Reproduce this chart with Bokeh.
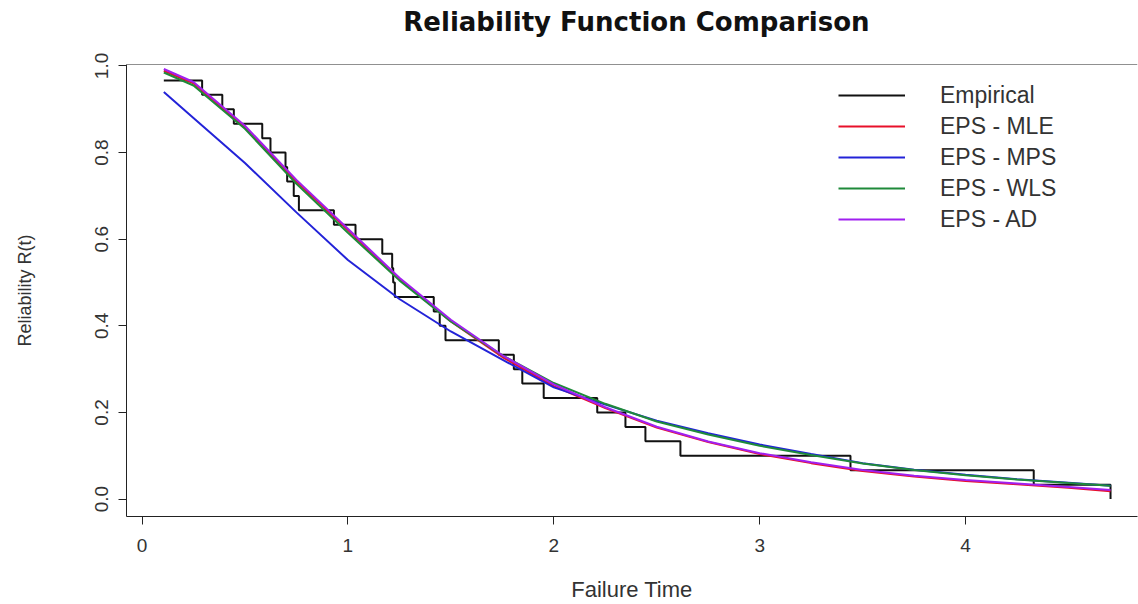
from bokeh.plotting import figure
from bokeh.layouts import column
from bokeh.models import Range1d, FixedTicker, Legend, LegendItem, Span
from bokeh.core.properties import value
from bokeh.embed import file_html
from bokeh.resources import INLINE

# ---------------- data ----------------
# Empirical reliability: ordered failure times and R(t) = 1 - i/n (n = 30)
emp_time = [0.106, 0.292, 0.390, 0.446, 0.584, 0.624, 0.697, 0.705, 0.737, 0.762,
            0.932, 1.037, 1.167, 1.215, 1.220, 1.228, 1.417, 1.446, 1.474, 1.733,
            1.806, 1.847, 1.951, 2.211, 2.348, 2.445, 2.615, 3.441, 4.331, 4.704]
emp_rel = [0.9667, 0.9333, 0.9000, 0.8667, 0.8333, 0.8000, 0.7667, 0.7333, 0.7000, 0.6667,
           0.6333, 0.6000, 0.5667, 0.5333, 0.5000, 0.4667, 0.4333, 0.4000, 0.3667, 0.3333,
           0.3000, 0.2667, 0.2333, 0.2000, 0.1667, 0.1333, 0.1000, 0.0667, 0.0333, 0.0000]

# fitted reliability curves
fit_time = [0.106, 0.25, 0.5, 0.75, 1.0, 1.25, 1.5, 1.75, 2.0, 2.25, 2.5, 2.75,
            3.0, 3.25, 3.5, 3.75, 4.0, 4.25, 4.5, 4.704]
rel_mle = [0.989, 0.960, 0.858, 0.733, 0.621, 0.508, 0.410, 0.328, 0.261, 0.210, 0.165, 0.132,
           0.104, 0.083, 0.065, 0.052, 0.042, 0.034, 0.026, 0.018]
rel_mps = [0.940, 0.880, 0.776, 0.662, 0.552, 0.462, 0.387, 0.322, 0.258, 0.218, 0.181, 0.152,
           0.126, 0.104, 0.083, 0.068, 0.056, 0.046, 0.038, 0.031]
rel_wls = [0.985, 0.955, 0.855, 0.728, 0.615, 0.505, 0.410, 0.332, 0.268, 0.220, 0.179, 0.149,
           0.123, 0.102, 0.082, 0.067, 0.055, 0.045, 0.037, 0.031]
rel_ad = [0.993, 0.963, 0.862, 0.737, 0.624, 0.511, 0.414, 0.332, 0.265, 0.212, 0.167, 0.133,
          0.106, 0.085, 0.067, 0.054, 0.044, 0.036, 0.028, 0.021]

x_ticks = [0, 1, 2, 3, 4]
x_tick_labels = ["0", "1", "2", "3", "4"]
y_ticks = [0.0, 0.2, 0.4, 0.6, 0.8, 1.0]
y_tick_labels = ["0.0", "0.2", "0.4", "0.6", "0.8", "1.0"]

series_names = ["Empirical", "EPS - MLE", "EPS - MPS", "EPS - WLS", "EPS - AD"]
series_colors = ["#111111", "#e8102a", "#2323d8", "#1f8a3a", "#a020f0"]

title_text = "Reliability Function Comparison"

FONT = "Liberation Sans"

# ---------------- title strip ----------------
TITLE_H = 40
t = figure(width=1138, height=TITLE_H, x_range=Range1d(0, 1138), y_range=Range1d(0, TITLE_H),
           output_backend="svg", toolbar_location=None,
           x_axis_location=None, y_axis_location=None, min_border=0)
t.outline_line_color = None
t.grid.visible = False
t.background_fill_color = "white"
t.border_fill_color = "white"
t.text(x=[574], y=[TITLE_H - 21], text=[title_text],
       text_align="center", text_baseline="middle",
       text_font=value("DejaVu Sans"), text_font_style="bold",
       text_font_size=value("26px"), text_color="#111111")

# ---------------- main figure ----------------
p = figure(width=1138, height=604 - TITLE_H,
           x_range=Range1d(-0.0753, 4.835), y_range=Range1d(-0.0402, 1.0034),
           output_backend="svg", toolbar_location=None,
           min_border_left=126, min_border_right=1,
           min_border_top=64 - TITLE_H, min_border_bottom=86)

p.background_fill_color = "white"
p.border_fill_color = "white"
p.outline_line_color = None
p.xgrid.visible = False
p.ygrid.visible = False

# top border of the box (right side is cut off in the reference)
p.add_layout(Span(location=1.0034, dimension="width", line_color="#222222", line_width=1))

for ax in (p.xaxis[0], p.yaxis[0]):
    ax.axis_line_color = "#222222"
    ax.major_tick_line_color = "#222222"
    ax.minor_tick_line_color = None
    ax.major_tick_in = 0
    ax.major_tick_out = 8
    ax.major_label_text_font = FONT
    ax.major_label_text_color = "#333333"
    ax.axis_label_text_font = FONT
    ax.axis_label_text_font_style = "normal"
    ax.axis_label_text_color = "#333333"

p.xaxis[0].ticker = FixedTicker(ticks=x_ticks)
p.xaxis[0].major_label_overrides = {tk: lb for tk, lb in zip(x_ticks, x_tick_labels)}
p.xaxis[0].major_label_text_font_size = "19px"
p.xaxis[0].major_label_standoff = 14
p.xaxis[0].axis_label = "Failure Time"
p.xaxis[0].axis_label_text_font_size = "22px"
p.xaxis[0].axis_label_standoff = 22

p.yaxis[0].ticker = FixedTicker(ticks=y_ticks)
p.yaxis[0].major_label_overrides = {tk: lb for tk, lb in zip(y_ticks, y_tick_labels)}
p.yaxis[0].major_label_text_font_size = "19px"
p.yaxis[0].major_label_orientation = "vertical"
p.yaxis[0].major_label_standoff = 10
p.yaxis[0].axis_label = "Reliability R(t)"
p.yaxis[0].axis_label_text_font_size = "18px"
p.yaxis[0].axis_label_standoff = 58

# ---------------- glyphs ----------------
r_emp = p.step(emp_time, emp_rel, mode="after", line_color=series_colors[0], line_width=2)
r_mle = p.line(fit_time, rel_mle, line_color=series_colors[1], line_width=2)
r_mps = p.line(fit_time, rel_mps, line_color=series_colors[2], line_width=2)
r_wls = p.line(fit_time, rel_wls, line_color=series_colors[3], line_width=2)
r_ad = p.line(fit_time, rel_ad, line_color=series_colors[4], line_width=2)

renderers = [r_emp, r_mle, r_mps, r_wls, r_ad]
legend = Legend(items=[LegendItem(label=n, renderers=[r]) for n, r in zip(series_names, renderers)],
                location=(712, 282), orientation="vertical",
                glyph_width=67, glyph_height=30, label_height=30,
                label_standoff=35, spacing=1, padding=0, margin=0,
                border_line_color=None, background_fill_alpha=0,
                label_text_font=FONT, label_text_font_size="23px",
                label_text_color="#333333")
p.add_layout(legend)

layout = column(t, p, spacing=0)
open("out.html", "w").write(file_html(layout, INLINE))
